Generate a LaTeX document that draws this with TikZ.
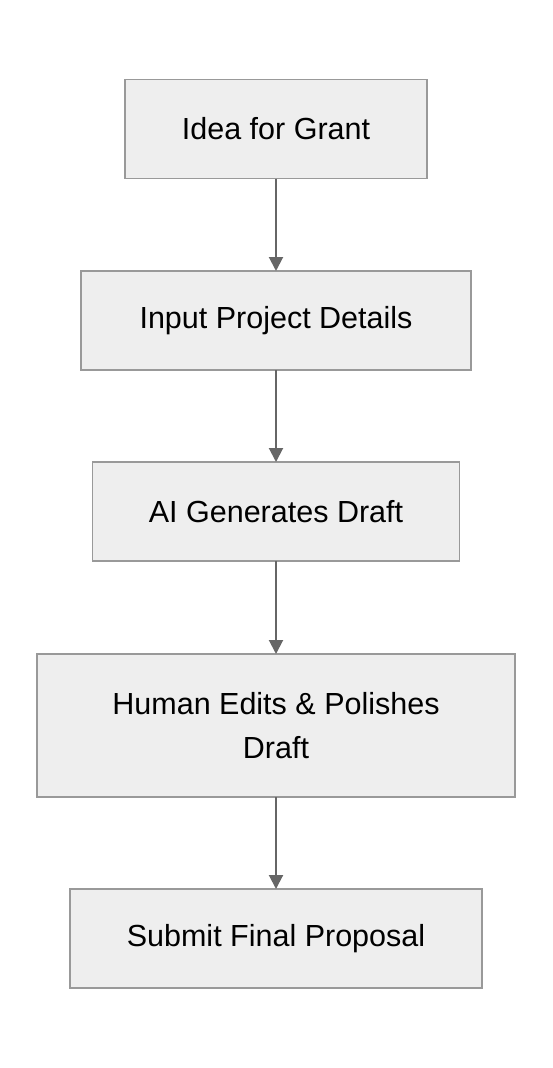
\documentclass[tikz,border=0pt]{standalone}
\usepackage{fontspec}
\setmainfont{Liberation Sans}
\usetikzlibrary{arrows.meta}
\definecolor{boxfill}{HTML}{EEEEEE}
\definecolor{boxline}{HTML}{999999}
\definecolor{arrowline}{HTML}{666666}
\begin{document}
\begin{tikzpicture}[x=1pt,y=-1pt,
    stepbox/.style={draw=boxline, fill=boxfill, line width=1.5pt, minimum height=99pt, align=center, inner sep=0pt, font=\fontsize{30.5}{44}\selectfont, outer sep=0pt},
    flow/.style={draw=arrowline, line width=2pt, -{Triangle[length=14pt,width=14pt]}}]
    \useasboundingbox (0,0) rectangle (552,1068);
    \node[stepbox, minimum width=302pt] (idea) at (276,129) {Idea for Grant};
    \node[stepbox, minimum width=390pt] (input) at (276,320.5) {Input Project Details};
    \node[stepbox, minimum width=367pt] (draft) at (276,511.5) {AI Generates Draft};
    \node[stepbox, minimum width=478pt, minimum height=143pt] (edit) at (276,725.5) {Human Edits \& Polishes\\Draft};
    \node[stepbox, minimum width=412pt] (submit) at (276,938.5) {Submit Final Proposal};
    \draw[flow] (idea) -- (input);
    \draw[flow] (input) -- (draft);
    \draw[flow] (draft) -- (edit);
    \draw[flow] (edit) -- (submit);
\end{tikzpicture}
\end{document}
